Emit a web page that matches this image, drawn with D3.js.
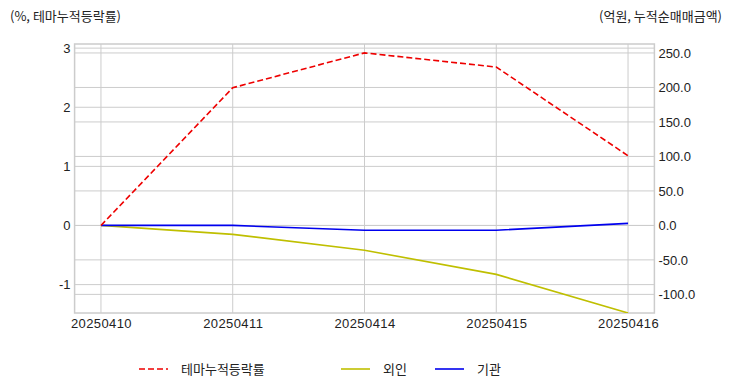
<!DOCTYPE html>
<html><head><meta charset="utf-8">
<script src="https://cdn.jsdelivr.net/npm/d3@7"></script>
<style>
body{margin:0;background:#fff;}
text{font-family:"Noto Sans CJK KR","Noto Sans",sans-serif;}
</style></head>
<body><svg id="c" width="732" height="392"></svg>
<script>
const dates = ["20250410","20250411","20250414","20250415","20250416"];
const themeReturn = [0, 2.33, 2.92, 2.68, 1.18];
const foreign = [0, -13, -36, -71, -127];
const institution = [0, 0, -7, -7, 3];
const leftTicks = [-1, 0, 1, 2, 3];
const rightTicks = [-100, -50, 0, 50, 100, 150, 200, 250];
const leftTitle = "(%, 테마누적등락률)";
const rightTitle = "(억원, 누적순매매금액)";
const legendNames = ["테마누적등락률", "외인", "기관"];

const svg = d3.select("#c");
const L = 74.6, R = 654.4, T = 44, B = 313;
const x = d3.scaleLinear().domain([-0.2, 4.2]).range([L, R]);
const yL = d3.scaleLinear().domain([-1.48, 3.07]).range([B, T]);
const yR = d3.scaleLinear().domain([-127, 263]).range([B, T]);
const grid = "#cccccc";
const fmt = d3.formatLocale({decimal: ".", thousands: ",", grouping: [3], currency: ["", ""], minus: "-"});

const g = svg.append("g");
g.selectAll(".gl").data(leftTicks).join("line")
  .attr("x1", L).attr("x2", R).attr("y1", d => yL(d)).attr("y2", d => yL(d))
  .attr("stroke", grid).attr("stroke-width", 1);
g.selectAll(".gr").data(rightTicks).join("line")
  .attr("x1", L).attr("x2", R).attr("y1", d => yR(d)).attr("y2", d => yR(d))
  .attr("stroke", grid).attr("stroke-width", 1);
g.selectAll(".gx").data(dates).join("line")
  .attr("x1", (d, i) => x(i)).attr("x2", (d, i) => x(i)).attr("y1", T).attr("y2", B)
  .attr("stroke", grid).attr("stroke-width", 1);

const axL = d3.axisLeft(yL).tickValues(leftTicks).tickSize(0).tickPadding(4).tickFormat(fmt.format("d"));
const axR = d3.axisRight(yR).tickValues(rightTicks).tickSize(0).tickPadding(4).tickFormat(fmt.format(".1f"));
const axB = d3.axisBottom(x).tickValues(d3.range(dates.length)).tickSize(0).tickPadding(6).tickFormat(i => dates[i]);
[[axL, `translate(${L},0)`, 0], [axR, `translate(${R},0)`, 0], [axB, `translate(0,${B})`, 0.4]].forEach(([a, t, ls]) => {
  const ga = svg.append("g").attr("transform", t).call(a);
  ga.select(".domain").remove();
  ga.selectAll("text").attr("fill", "#222").style("font-size", "13px").style("letter-spacing", ls + "px")
    .style("font-family", "'Liberation Sans', Arial, sans-serif");
});

svg.append("rect").attr("x", L).attr("y", T).attr("width", R - L).attr("height", B - T)
  .attr("fill", "none").attr("stroke", grid).attr("stroke-width", 1.5);

svg.append("clipPath").attr("id", "cp").append("rect")
  .attr("x", L).attr("y", T - 2).attr("width", R - L).attr("height", B - T + 2);

const lg = svg.append("g").attr("clip-path", "url(#cp)");
const lineL = d3.line().x((d, i) => x(i)).y(d => yL(d));
const lineR = d3.line().x((d, i) => x(i)).y(d => yR(d));
lg.append("path").datum(foreign).attr("d", lineR).attr("fill", "none")
  .attr("stroke", "#bfbf00").attr("stroke-width", 1.6);
lg.append("path").datum(institution).attr("d", lineR).attr("fill", "none")
  .attr("stroke", "#0000ee").attr("stroke-width", 1.6);
lg.append("path").datum(themeReturn).attr("d", lineL).attr("fill", "none")
  .attr("stroke", "#ee0000").attr("stroke-width", 1.6).attr("stroke-dasharray", "6,3");

svg.append("text").attr("x", 10).attr("y", 21).text(leftTitle)
  .attr("fill", "#222").style("font-size", "13px");
svg.append("text").attr("x", 722).attr("y", 21).attr("text-anchor", "end").text(rightTitle)
  .attr("fill", "#222").style("font-size", "13px");

const legColors = ["#ee0000", "#bfbf00", "#0000ee"];
const legX = [139, 341, 435];
legendNames.forEach((n, i) => {
  svg.append("line").attr("x1", legX[i]).attr("x2", legX[i] + 29).attr("y1", 369).attr("y2", 369)
    .attr("stroke", legColors[i]).attr("stroke-width", 1.6)
    .attr("stroke-dasharray", i === 0 ? "6,3" : null);
  svg.append("text").attr("x", legX[i] + 42).attr("y", 374).text(n)
    .attr("fill", "#222").style("font-size", "13px");
});
</script></body></html>
